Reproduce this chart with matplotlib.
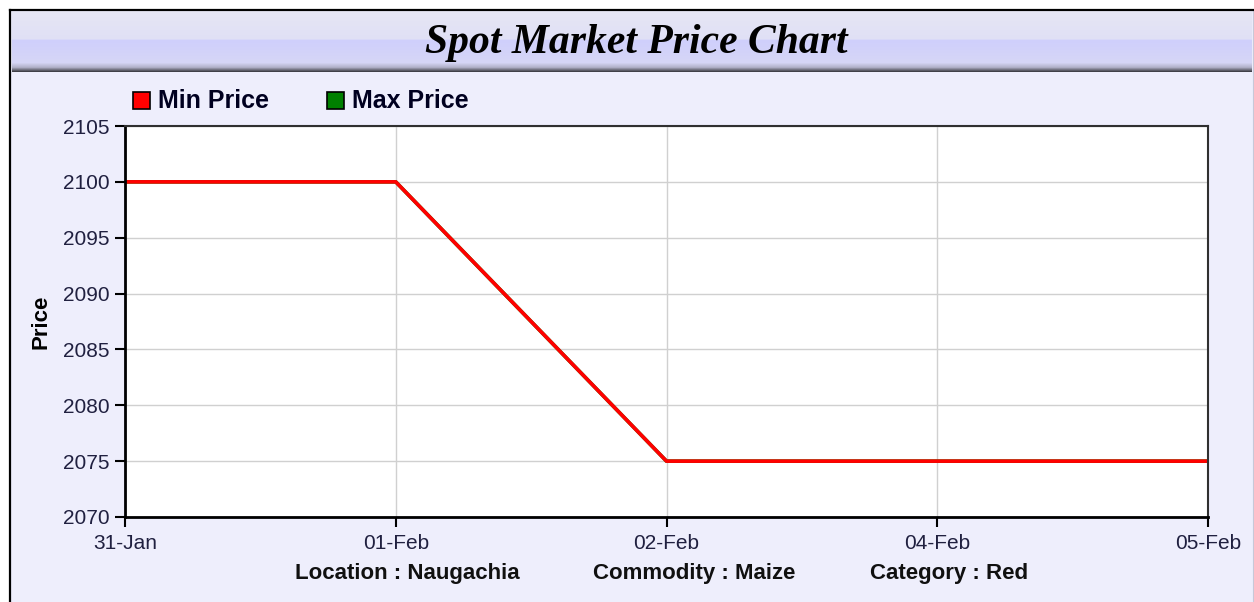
import numpy as np
import matplotlib
matplotlib.use("Agg")
import matplotlib.pyplot as plt
from matplotlib.patches import Rectangle
from matplotlib.colors import to_rgb

# datos del grafico
fechas = ["31-Jan", "01-Feb", "02-Feb", "04-Feb", "05-Feb"]
precio_min = [2100, 2100, 2075, 2075, 2075]
precio_max = [2100, 2100, 2075, 2075, 2075]
y_ticks = [2070, 2075, 2080, 2085, 2090, 2095, 2100, 2105]
pie = ["Location : Naugachia", "Commodity : Maize", "Category : Red"]

W, H = 1254, 602
fig = plt.figure(figsize=(W / 100, H / 100), dpi=100)
fig.patch.set_facecolor("white")


def px(x0, y0, x1, y1):
    # caja en pixeles (origen arriba-izquierda) -> coordenadas de figura
    return [x0 / W, 1 - y1 / H, (x1 - x0) / W, (y1 - y0) / H]


# fondo lavanda con marco
fondo = fig.add_axes(px(10, 10, 1253, 602))
fondo.set_xlim(0, 1)
fondo.set_ylim(0, 1)
fondo.set_facecolor("#eeeefc")
fondo.set_xticks([])
fondo.set_yticks([])
for lado in ["left", "top"]:
    fondo.spines[lado].set_linewidth(1.6)
    fondo.spines[lado].set_color("black")
fondo.spines["right"].set_color("#c8c8d8")
fondo.spines["bottom"].set_visible(False)

# banda del titulo con degradado
banda = fig.add_axes(px(12, 12, 1252, 72))
stops = [(0.0, "#e6e6f4"), (0.45, "#e0e0f6"), (0.47, "#cfcffc"),
         (0.85, "#d6d6f6"), (0.93, "#b0b0c8"), (1.0, "#404048")]
n = 60
grad = np.zeros((n, 2, 3))
for i in range(n):
    t = i / (n - 1)
    for (t0, c0), (t1, c1) in zip(stops[:-1], stops[1:]):
        if t0 <= t <= t1:
            f = (t - t0) / (t1 - t0) if t1 > t0 else 0
            grad[i, :, :] = (1 - f) * np.array(to_rgb(c0)) + f * np.array(to_rgb(c1))
            break
banda.imshow(grad, aspect="auto", extent=[0, 1, 0, 1], origin="upper")
banda.set_xlim(0, 1)
banda.set_ylim(0, 1)
banda.axis("off")
fig.text(636 / W, 1 - 53 / H, "Spot Market Price Chart", ha="center", va="baseline",
         fontsize=30, fontweight="bold", fontstyle="italic",
         family="Liberation Serif", color="black")

# grafico principal
ax = fig.add_axes(px(125, 126, 1208, 517))
ax.set_facecolor("white")
x = np.arange(len(fechas))
ax.plot(x, precio_max, color="#008000", linewidth=2.6, label="Max Price")
ax.plot(x, precio_min, color="#ff0000", linewidth=2.6, label="Min Price")
ax.set_xlim(0, len(fechas) - 1)
ax.set_ylim(2070, 2105)
ax.set_xticks(x)
ax.set_xticklabels(fechas)
ax.set_yticks(y_ticks)
ax.grid(True, color="#d0d0d0", linewidth=1)
ax.set_axisbelow(True)
ax.tick_params(axis="both", direction="out", length=7, width=1.5,
               colors="black", labelsize=15, labelcolor="#202040")
ax.tick_params(axis="x", pad=5)
ax.tick_params(axis="y", pad=4)
for lado in ["left", "bottom"]:
    ax.spines[lado].set_linewidth(2)
    ax.spines[lado].set_color("black")
for lado in ["top", "right"]:
    ax.spines[lado].set_linewidth(1.5)
    ax.spines[lado].set_color("#303030")
for lbl in ax.get_xticklabels() + ax.get_yticklabels():
    lbl.set_family("Liberation Sans")
ax.set_ylabel("Price", fontsize=16, fontweight="bold", family="Liberation Sans",
              labelpad=8)

# leyenda manual
leyenda = [("Min Price", "#ff0000", 133), ("Max Price", "#008000", 327)]
for texto, color, x0 in leyenda:
    fig.patches.append(Rectangle((x0 / W, 1 - 109 / H), 17 / W, 17 / H,
                                 transform=fig.transFigure, facecolor=color,
                                 edgecolor="black", linewidth=1.2))
    fig.text((x0 + 25) / W, 1 - 101 / H, texto, ha="left", va="center",
             fontsize=18, fontweight="bold", family="Liberation Sans",
             color="#000020")

# texto inferior
for texto, xc in zip(pie, [407, 694, 949]):
    fig.text(xc / W, 1 - 574 / H, texto, ha="center", va="center",
             fontsize=16, fontweight="bold", family="Liberation Sans",
             color="#101010")

fig.savefig("out.png", dpi=100)
